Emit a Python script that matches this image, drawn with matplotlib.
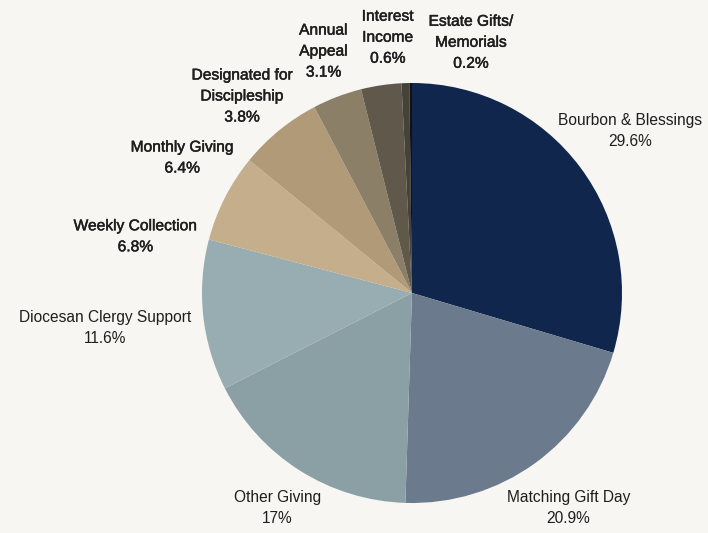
import matplotlib.pyplot as plt
import matplotlib.patheffects as pe

plt.rcParams['font.family'] = ['Liberation Sans', 'DejaVu Sans']

# data
labels = ['Bourbon & Blessings', 'Matching Gift Day', 'Other Giving',
          'Diocesan Clergy Support', 'Weekly Collection', 'Monthly Giving',
          'Designated for\nDiscipleship', 'Annual\nAppeal', 'Interest\nIncome',
          'Estate Gifts/\nMemorials']
values = [29.6, 20.9, 17, 11.6, 6.8, 6.4, 3.8, 3.1, 0.6, 0.2]
pct_text = ['29.6%', '20.9%', '17%', '11.6%', '6.8%', '6.4%', '3.8%', '3.1%', '0.6%', '0.2%']

colors = ['#10264c', '#6b7a8d', '#8aa0a5', '#97adb2', '#c5ae8c',
          '#b09a78', '#8b7f68', '#5f584b', '#46423a', '#111111']

# label centres in pie-radius units, and which ones get the heavier look
label_pos = [(1.038, 0.773), (0.744, -1.024), (-0.640, -1.024), (-1.460, -0.166),
             (-1.318, 0.270), (-1.095, 0.645), (-0.810, 0.938), (-0.422, 1.152),
             (-0.116, 1.218), (0.280, 1.194)]
heavy = [False, False, False, False, True, True, True, True, True, True]

bg = '#f7f6f3'
fig = plt.figure(figsize=(7.08, 5.33), dpi=100, facecolor=bg)
ax = fig.add_axes([0, 0, 1, 1])
ax.set_facecolor(bg)

ax.pie(values, colors=colors, startangle=90, counterclock=False,
       radius=1.0, wedgeprops=dict(linewidth=0))

for lab, pct, (x, y), h in zip(labels, pct_text, label_pos, heavy):
    t = ax.text(x, y, lab + '\n' + pct, ha='center', va='center',
                fontsize=11.2, color='#1e1e1e', linespacing=1.5)
    if h:
        t.set_path_effects([pe.withStroke(linewidth=0.35, foreground='#1e1e1e')])

# 1 unit = 210 px, pie centre at (412, 293) px from top-left
ax.set_xlim(-412 / 210, (708 - 412) / 210)
ax.set_ylim(-(533 - 293) / 210, 293 / 210)
ax.set_aspect('auto')
ax.axis('off')

fig.savefig('out.png', dpi=100, facecolor=bg)
